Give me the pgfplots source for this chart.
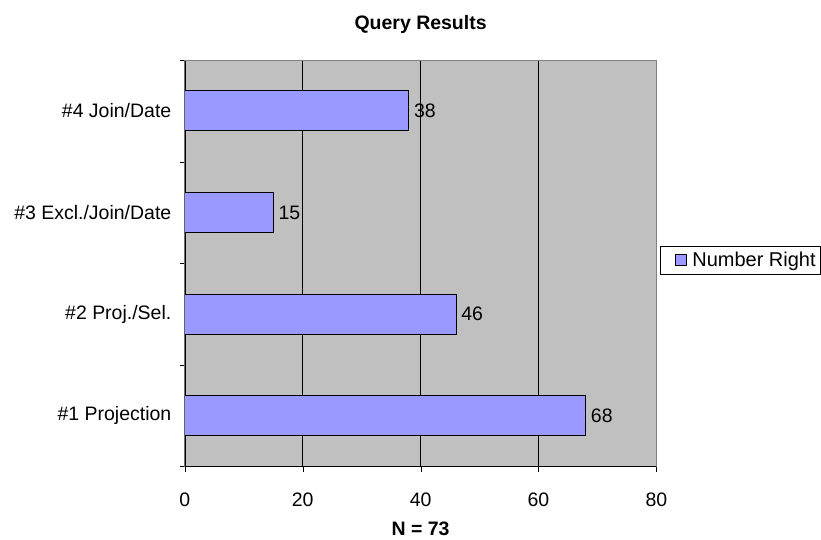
\documentclass[border=0pt]{standalone}
\usepackage{pgfplots}
\pgfplotsset{compat=1.18}
\usepackage{fontspec}
\setmainfont{Liberation Sans}
\definecolor{barblue}{HTML}{9999FF}
\definecolor{plotgray}{HTML}{C0C0C0}
\definecolor{bordergray}{HTML}{808080}
\begin{document}
\begin{tikzpicture}
\begin{axis}[
  at={(0,0)}, anchor=south west,
  scale only axis,
  width=472bp, height=407bp,
  xbar, bar width=40bp,
  xmin=0, xmax=80,
  ymin=0.5, ymax=4.5,
  xtick={0,20,40,60,80},
  ytick={1,2,3,4},
  yticklabels={{\#1 Projection},{\#2 Proj./Sel.},{\#3 Excl./Join/Date},{\#4 Join/Date}},
  minor ytick={0.5,1.5,2.5,3.5,4.5},
  major tick length=5bp,
  minor tick length=5bp,
  ytick style={draw=none},
  minor y tick style={draw=black},
  xtick style={draw=black},
  tick align=outside,
  xtick pos=bottom, ytick pos=left,
  xmajorgrids, major x grid style={black, line width=0.6pt},
  axis background/.style={fill=plotgray},
  axis line style={draw=bordergray, line width=0.8pt},
  /pgf/number format/assume math mode=true,
  tick label style={font=\fontsize{19.5bp}{23bp}\selectfont},
  xticklabel style={anchor=base, yshift=-35bp},
  yticklabel style={anchor=east, xshift=-5bp},
  nodes near coords,
  nodes near coords style={font=\fontsize{19.5bp}{23bp}\selectfont, anchor=west, inner sep=0pt, xshift=5bp},
  title={\textbf{Query Results}},
  title style={at={(0.5,1)}, anchor=base, yshift=24bp, font=\fontsize{19.5bp}{23bp}\selectfont},
  xlabel={\textbf{N = 73}},
  xlabel style={at={(0.5,0)}, anchor=base, yshift=-69bp, font=\fontsize{19.5bp}{23bp}\selectfont},
  legend style={at={(1,0.5)}, anchor=west, xshift=4bp, yshift=3bp, draw=black, fill=white, line width=0.7pt,
    font=\fontsize{20bp}{24bp}\selectfont, inner xsep=2bp, inner ysep=4bp,
    nodes={inner xsep=3bp}},
  legend image code/.code={\path (0bp,0bp) (26bp,0bp); \draw[fill=barblue, draw=black, line width=0.7pt] (12bp,-5bp) rectangle (23bp,6bp);},
]
\addplot[fill=barblue, draw=black, line width=0.7pt] coordinates {(68,1) (46,2) (15,3) (38,4)};
\addlegendentry{Number Right}
\draw[black, line width=0.8pt] (rel axis cs:0,0) -- (rel axis cs:0,1);
\draw[black, line width=0.8pt] (rel axis cs:0,0) -- (rel axis cs:1,0);
\end{axis}
\useasboundingbox (-185bp,-71bp) rectangle (636bp,467bp);
\end{tikzpicture}
\end{document}
